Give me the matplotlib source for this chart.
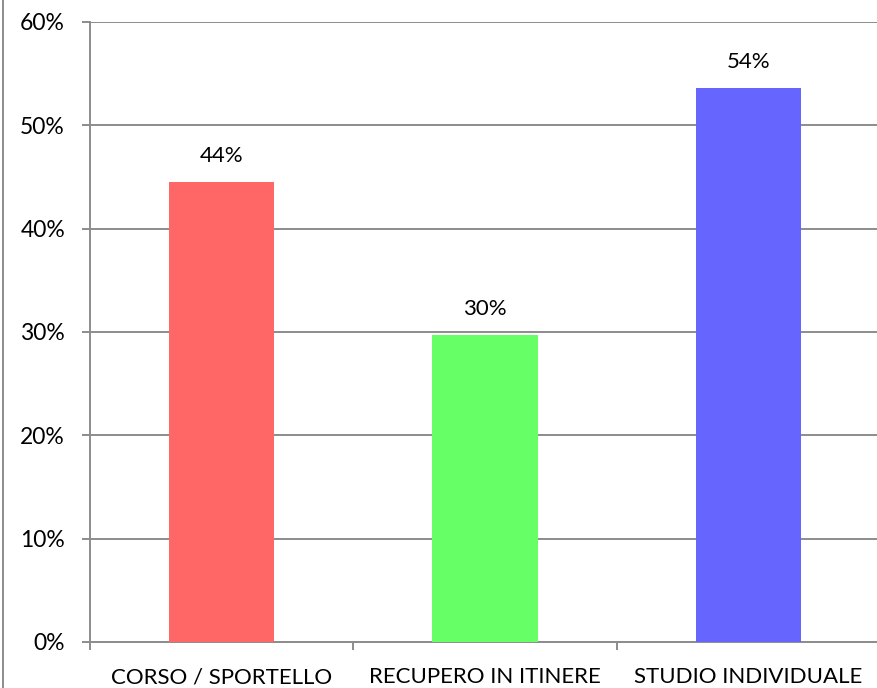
import matplotlib
matplotlib.use('Agg')
import matplotlib.pyplot as plt
from matplotlib.lines import Line2D
import numpy as np

plt.rcParams['font.family'] = ['Lato', 'DejaVu Sans']

categories = ['CORSO / SPORTELLO', 'RECUPERO IN ITINERE', 'STUDIO INDIVIDUALE']
values = [44.5, 29.7, 53.6]
labels = ['44%', '30%', '54%']
colors = ['#FF6666', '#66FF66', '#6666FF']
yticks = [0, 10, 20, 30, 40, 50, 60]

grid_c = '#8C8C8C'

fig = plt.figure(figsize=(8.78, 6.88), dpi=100)
ax = fig.add_axes([90 / 878, 46 / 688, 790 / 878, 620 / 688])

x = np.arange(len(categories))
ax.bar(x, values, width=0.4, color=colors, zorder=3)
for xi, v, lab in zip(x, values, labels):
    ax.text(xi, v + 1.6, lab, ha='center', va='bottom', fontsize=16, color='black')

ax.set_xlim(-0.5, 2.5)
ax.set_ylim(0, 60)
ax.set_yticks(yticks)
ax.set_yticklabels([f'{t}%' for t in yticks], fontsize=16.5)
ax.yaxis.grid(True, color=grid_c, lw=1.4, zorder=0)
ax.tick_params(axis='y', length=6, width=1.4, color=grid_c, pad=12)

ax.set_xticks(x)
ax.set_xticklabels(categories, fontsize=16)
ax.set_xticks([-0.5, 0.5, 1.5, 2.5], minor=True)
ax.tick_params(axis='x', which='major', length=0, pad=18)
ax.tick_params(axis='x', which='minor', length=6, width=1.4, color=grid_c)

for s in ['top', 'right']:
    ax.spines[s].set_visible(False)
for s in ['left', 'bottom']:
    ax.spines[s].set_color(grid_c)
    ax.spines[s].set_linewidth(1.4)

# outer chart border on the left edge
fig.add_artist(Line2D([2.5 / 878, 2.5 / 878], [0, 1], color='#8C8C8C', lw=1.4))

fig.savefig('out.png', dpi=100, facecolor='white')
